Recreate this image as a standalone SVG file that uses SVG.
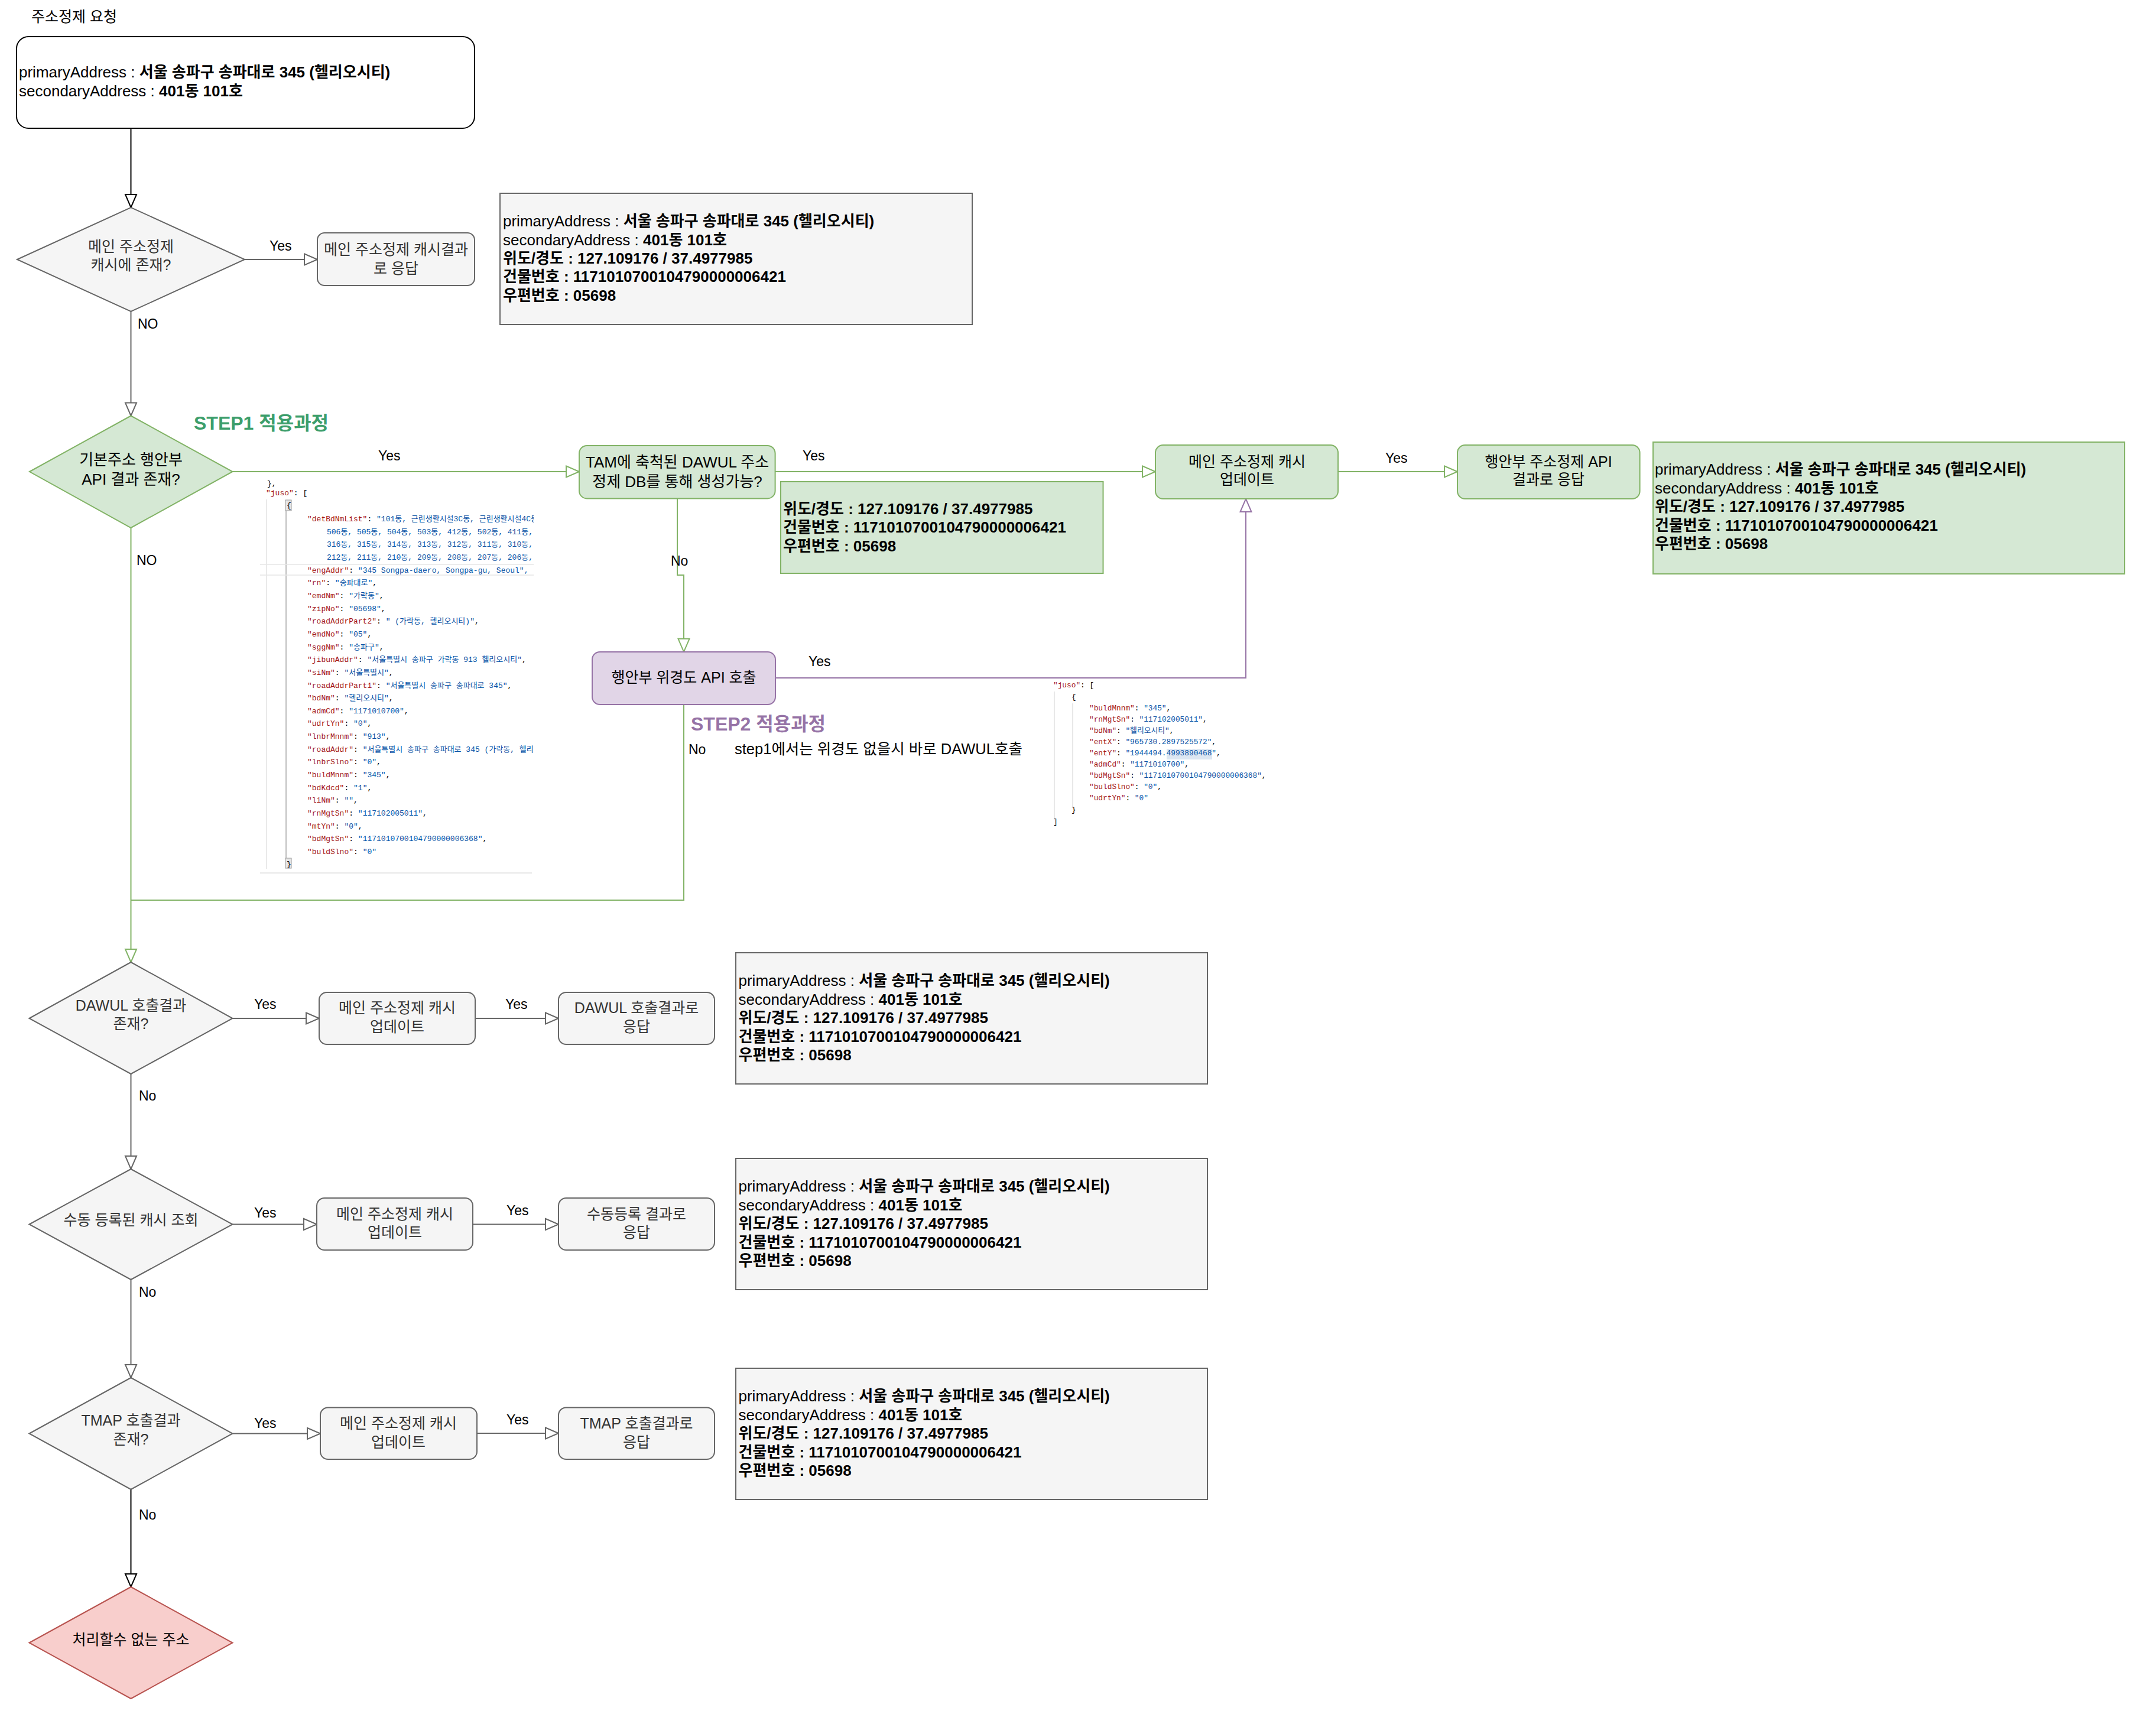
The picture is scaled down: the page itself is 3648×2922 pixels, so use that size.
<svg xmlns="http://www.w3.org/2000/svg" width="3648" height="2922" viewBox="0 0 3648 2922">
<style>
text{font-family:"Liberation Sans","Noto Sans CJK KR",sans-serif}
.lbl{text-anchor:middle}
.f25{font-size:25px}.f26{font-size:26px}
.g{fill:#333}
.yn{font-size:23px;fill:#000}
.adr{font-size:26px;fill:#000}
.b{font-weight:bold}
.step{font-size:32px;font-weight:bold}
.js text,.js2 text{font-family:"Liberation Mono","Noto Sans CJK KR",monospace;fill:#000}
.js text{font-size:13px}.js2 text{font-size:12.8px}
.jk{fill:#a31515}.jv{fill:#0451a5}
text.jv{fill:#0451a5}
.ngray{fill:#f5f5f5;stroke:#666;stroke-width:2}
.ngreen{fill:#d5e8d4;stroke:#82b366;stroke-width:2}
.npurple{fill:#e1d5e7;stroke:#9673a6;stroke-width:2}
.nred{fill:#f8cecc;stroke:#b85450;stroke-width:2}
.e{fill:none;stroke-width:2}
</style>
<defs>
<marker id="ab" markerUnits="userSpaceOnUse" markerWidth="26" markerHeight="24" refX="23" refY="11" orient="auto" overflow="visible"><path d="M1,1.5 L23,11 L1,20.5 Z" fill="#fff" stroke="#000" stroke-width="2"/></marker>
<marker id="ag" markerUnits="userSpaceOnUse" markerWidth="26" markerHeight="24" refX="23" refY="11" orient="auto" overflow="visible"><path d="M1,1.5 L23,11 L1,20.5 Z" fill="#fff" stroke="#666" stroke-width="2"/></marker>
<marker id="agr" markerUnits="userSpaceOnUse" markerWidth="26" markerHeight="24" refX="23" refY="11" orient="auto" overflow="visible"><path d="M1,1.5 L23,11 L1,20.5 Z" fill="#fff" stroke="#82b366" stroke-width="2"/></marker>
<marker id="ap" markerUnits="userSpaceOnUse" markerWidth="26" markerHeight="24" refX="23" refY="11" orient="auto" overflow="visible"><path d="M1,1.5 L23,11 L1,20.5 Z" fill="#fff" stroke="#9673a6" stroke-width="2"/></marker>
<clipPath id="cj1"><rect x="440" y="813" width="463" height="670"/></clipPath>
</defs>
<rect width="3648" height="2922" fill="#fff"/>

<text x="53" y="37" font-size="25">주소정제 요청</text>

<g id="connectors">
<path class="e" d="M221.5,218 V351" stroke="#000" marker-end="url(#ab)"/>
<path class="e" d="M414,439 H537" stroke="#666" marker-end="url(#ag)"/>
<path class="e" d="M221.5,527 V703.5" stroke="#666" marker-end="url(#ag)"/>
<path class="e" d="M393.5,798 H980" stroke="#82b366" marker-end="url(#agr)"/>
<path class="e" d="M1311.6,798 H1955" stroke="#82b366" marker-end="url(#agr)"/>
<path class="e" d="M2264,798 H2466" stroke="#82b366" marker-end="url(#agr)"/>
<path class="e" d="M1146,843.4 V973 H1157 V1102.8" stroke="#82b366" marker-end="url(#agr)"/>
<path class="e" d="M1312,1147 H2108 V844" stroke="#9673a6" marker-end="url(#ap)"/>
<path class="e" d="M221.5,893 V1628" stroke="#82b366" marker-end="url(#agr)"/>
<path class="e" d="M1157,1192 V1523 H221.5" stroke="#82b366"/>
<path class="e" d="M393.5,1723 H540" stroke="#666" marker-end="url(#ag)"/>
<path class="e" d="M804,1723 H945" stroke="#666" marker-end="url(#ag)"/>
<path class="e" d="M221.5,1817 V1978" stroke="#666" marker-end="url(#ag)"/>
<path class="e" d="M393.5,2071.5 H536" stroke="#666" marker-end="url(#ag)"/>
<path class="e" d="M800,2071.5 H945" stroke="#666" marker-end="url(#ag)"/>
<path class="e" d="M221.5,2165 V2331" stroke="#666" marker-end="url(#ag)"/>
<path class="e" d="M393.5,2425.5 H542" stroke="#666" marker-end="url(#ag)"/>
<path class="e" d="M807,2425 H945" stroke="#666" marker-end="url(#ag)"/>
<path class="e" d="M221.5,2520 V2685" stroke="#000" marker-end="url(#ab)"/>
<text class="yn" x="456" y="424">Yes</text>
<text class="yn" x="233" y="556">NO</text>
<text class="yn" x="640" y="779">Yes</text>
<text class="yn" x="231" y="956">NO</text>
<text class="yn" x="1358" y="779">Yes</text>
<text class="yn" x="1135" y="957">No</text>
<text class="yn" x="2344" y="783">Yes</text>
<text class="yn" x="1368" y="1127">Yes</text>
<text class="yn" x="1165" y="1276" font-size="24">No</text>
<text class="yn" x="430" y="1707">Yes</text>
<text class="yn" x="855" y="1707">Yes</text>
<text class="yn" x="235" y="1862">No</text>
<text class="yn" x="430" y="2060">Yes</text>
<text class="yn" x="857" y="2056">Yes</text>
<text class="yn" x="235" y="2194">No</text>
<text class="yn" x="430" y="2416">Yes</text>
<text class="yn" x="857" y="2410">Yes</text>
<text class="yn" x="235" y="2571">No</text>
</g>

<g id="n-request">
<rect x="28" y="62" width="775" height="155" rx="20" fill="#fff" stroke="#000" stroke-width="2"/>
<text class="adr" x="32" y="131">primaryAddress : <tspan class="b">서울 송파구 송파대로 345 (헬리오시티)</tspan></text>
<text class="adr" x="32" y="163">secondaryAddress : <tspan class="b">401동 101호</tspan></text>
</g>

<g id="n-d1">
<polygon class="ngray" points="29,439 221.5,351 414,439 221.5,527"/>
<text class="lbl f25 g" x="221.5" y="425.5">메인 주소정제</text>
<text class="lbl f25 g" x="221.5" y="457">캐시에 존재?</text>
</g>

<g id="n-cache-resp">
<rect class="ngray" x="537" y="394" width="266" height="89" rx="12"/>
<text class="lbl f25 g" x="670" y="431">메인 주소정제 캐시결과</text>
<text class="lbl f25 g" x="670" y="462.5">로 응답</text>
</g>

<g id="n-info1">
<rect class="ngray" x="846" y="327" width="799" height="222"/>
<text class="adr" x="851" y="383">primaryAddress : <tspan class="b">서울 송파구 송파대로 345 (헬리오시티)</tspan></text>
<text class="adr" x="851" y="414.5">secondaryAddress : <tspan class="b">401동 101호</tspan></text>
<text class="adr b" x="851" y="446">위도/경도 : 127.109176 / 37.4977985</text>
<text class="adr b" x="851" y="477">건물번호 : 1171010700104790000006421</text>
<text class="adr b" x="851" y="508.5">우편번호 : 05698</text>
</g>

<text class="step" x="328" y="727" fill="#3d9e6b">STEP1 적용과정</text>

<g id="n-d2">
<polygon class="ngreen" points="50,798 221.5,703.5 393.5,798 221.5,893"/>
<text class="lbl f26" x="221.5" y="787">기본주소 행안부</text>
<text class="lbl f26" x="221.5" y="820">API 결과 존재?</text>
</g>

<g id="json1" clip-path="url(#cj1)">
<line x1="451" y1="845" x2="451" y2="1470" stroke="#e3e3e3" stroke-width="1.5"/>
<line x1="484" y1="864" x2="484" y2="1452" stroke="#a8a8a8" stroke-width="1.5"/>
<line x1="440" y1="955" x2="903" y2="955" stroke="#e6e6e6" stroke-width="1.5"/>
<line x1="440" y1="973" x2="903" y2="973" stroke="#e6e6e6" stroke-width="1.5"/>
<line x1="440" y1="1477" x2="900" y2="1477" stroke="#e8e8e8" stroke-width="2"/>
<rect x="483" y="846" width="10" height="18" fill="#e6e6e6" stroke="#999" stroke-width="1"/>
<rect x="483" y="1452" width="10" height="17" fill="#e6e6e6" stroke="#999" stroke-width="1"/>
<g class="js">
<text x="452" y="822">},</text>
<text x="450" y="838"><tspan class="jk">"juso"</tspan>: [</text>
<text x="485" y="859">{</text>
<text x="520" y="882"><tspan class="jk">"detBdNmList"</tspan>: <tspan class="jv">"101동, 근린생활시설3C동, 근린생활시설4C동,</tspan></text>
<text x="553" y="903.6" class="jv">506동, 505동, 504동, 503동, 412동, 502동, 411동,</text>
<text x="553" y="925.3" class="jv">316동, 315동, 314동, 313동, 312동, 311동, 310동,</text>
<text x="553" y="947" class="jv">212동, 211동, 210동, 209동, 208동, 207동, 206동,</text>
<text x="520" y="968.6"><tspan class="jk">"engAddr"</tspan>: <tspan class="jv">"345 Songpa-daero, Songpa-gu, Seoul",</tspan></text>
<text x="520" y="990.3"><tspan class="jk">"rn"</tspan>: <tspan class="jv">"송파대로"</tspan>,</text>
<text x="520" y="1011.9"><tspan class="jk">"emdNm"</tspan>: <tspan class="jv">"가락동"</tspan>,</text>
<text x="520" y="1033.6"><tspan class="jk">"zipNo"</tspan>: <tspan class="jv">"05698"</tspan>,</text>
<text x="520" y="1055.2"><tspan class="jk">"roadAddrPart2"</tspan>: <tspan class="jv">" (가락동, 헬리오시티)"</tspan>,</text>
<text x="520" y="1076.9"><tspan class="jk">"emdNo"</tspan>: <tspan class="jv">"05"</tspan>,</text>
<text x="520" y="1098.5"><tspan class="jk">"sggNm"</tspan>: <tspan class="jv">"송파구"</tspan>,</text>
<text x="520" y="1120.2"><tspan class="jk">"jibunAddr"</tspan>: <tspan class="jv">"서울특별시 송파구 가락동 913 헬리오시티"</tspan>,</text>
<text x="520" y="1141.8"><tspan class="jk">"siNm"</tspan>: <tspan class="jv">"서울특별시"</tspan>,</text>
<text x="520" y="1163.5"><tspan class="jk">"roadAddrPart1"</tspan>: <tspan class="jv">"서울특별시 송파구 송파대로 345"</tspan>,</text>
<text x="520" y="1185.1"><tspan class="jk">"bdNm"</tspan>: <tspan class="jv">"헬리오시티"</tspan>,</text>
<text x="520" y="1206.8"><tspan class="jk">"admCd"</tspan>: <tspan class="jv">"1171010700"</tspan>,</text>
<text x="520" y="1228.4"><tspan class="jk">"udrtYn"</tspan>: <tspan class="jv">"0"</tspan>,</text>
<text x="520" y="1250.1"><tspan class="jk">"lnbrMnnm"</tspan>: <tspan class="jv">"913"</tspan>,</text>
<text x="520" y="1271.7"><tspan class="jk">"roadAddr"</tspan>: <tspan class="jv">"서울특별시 송파구 송파대로 345 (가락동, 헬리오시티)"</tspan>,</text>
<text x="520" y="1293.4"><tspan class="jk">"lnbrSlno"</tspan>: <tspan class="jv">"0"</tspan>,</text>
<text x="520" y="1315"><tspan class="jk">"buldMnnm"</tspan>: <tspan class="jv">"345"</tspan>,</text>
<text x="520" y="1336.7"><tspan class="jk">"bdKdcd"</tspan>: <tspan class="jv">"1"</tspan>,</text>
<text x="520" y="1358.3"><tspan class="jk">"liNm"</tspan>: <tspan class="jv">""</tspan>,</text>
<text x="520" y="1380"><tspan class="jk">"rnMgtSn"</tspan>: <tspan class="jv">"117102005011"</tspan>,</text>
<text x="520" y="1401.6"><tspan class="jk">"mtYn"</tspan>: <tspan class="jv">"0"</tspan>,</text>
<text x="520" y="1423.3"><tspan class="jk">"bdMgtSn"</tspan>: <tspan class="jv">"1171010700104790000006368"</tspan>,</text>
<text x="520" y="1444.9"><tspan class="jk">"buldSlno"</tspan>: <tspan class="jv">"0"</tspan></text>
<text x="485" y="1466">}</text>
</g>
</g>

<g id="n-tam">
<rect class="ngreen" x="980" y="754" width="331.6" height="89.4" rx="13"/>
<text class="lbl f26" x="1146" y="791">TAM에 축척된 DAWUL 주소</text>
<text class="lbl f26" x="1146" y="823.6">정제 DB를 통해 생성가능?</text>
</g>

<g id="n-info-geo">
<rect class="ngreen" x="1321" y="815" width="545.5" height="155"/>
<text class="adr b" x="1325" y="869.5">위도/경도 : 127.109176 / 37.4977985</text>
<text class="adr b" x="1325" y="901">건물번호 : 1171010700104790000006421</text>
<text class="adr b" x="1325" y="932.5">우편번호 : 05698</text>
</g>

<g id="n-update1">
<rect class="ngreen" x="1955" y="753" width="309" height="91" rx="13"/>
<text class="lbl f25" x="2110" y="790">메인 주소정제 캐시</text>
<text class="lbl f25" x="2110" y="820">업데이트</text>
</g>

<g id="n-api-resp">
<rect class="ngreen" x="2466" y="753" width="308.6" height="91" rx="13"/>
<text class="lbl f25" x="2620" y="790">행안부 주소정제 API</text>
<text class="lbl f25" x="2620" y="820">결과로 응답</text>
</g>

<g id="n-info-api">
<rect class="ngreen" x="2797" y="748" width="798" height="223"/>
<text class="adr" x="2800" y="803">primaryAddress : <tspan class="b">서울 송파구 송파대로 345 (헬리오시티)</tspan></text>
<text class="adr" x="2800" y="834.5">secondaryAddress : <tspan class="b">401동 101호</tspan></text>
<text class="adr b" x="2800" y="866">위도/경도 : 127.109176 / 37.4977985</text>
<text class="adr b" x="2800" y="897.5">건물번호 : 1171010700104790000006421</text>
<text class="adr b" x="2800" y="929">우편번호 : 05698</text>
</g>

<g id="n-geo-api">
<rect class="npurple" x="1002" y="1103" width="310" height="89" rx="13"/>
<text class="lbl f25" x="1157" y="1155">행안부 위경도 API 호출</text>
</g>

<text class="step" x="1169" y="1236" fill="#9673a6">STEP2 적용과정</text>
<text x="1243" y="1276" font-size="25.5">step1에서는 위경도 없을시 바로 DAWUL호출</text>

<g id="json2" class="js2">
<rect x="1974" y="1267" width="77" height="18" fill="#dce6f2"/>
<line x1="1784" y1="1170" x2="1784" y2="1388" stroke="#e0e0e0" stroke-width="1.5"/>
<line x1="1815" y1="1190" x2="1815" y2="1366" stroke="#e0e0e0" stroke-width="1.5"/>
<text x="1782" y="1163"><tspan class="jk">"juso"</tspan>: [</text>
<text x="1813" y="1183">{</text>
<text x="1843" y="1202"><tspan class="jk">"buldMnnm"</tspan>: <tspan class="jv">"345"</tspan>,</text>
<text x="1843" y="1221"><tspan class="jk">"rnMgtSn"</tspan>: <tspan class="jv">"117102005011"</tspan>,</text>
<text x="1843" y="1240"><tspan class="jk">"bdNm"</tspan>: <tspan class="jv">"헬리오시티"</tspan>,</text>
<text x="1843" y="1259"><tspan class="jk">"entX"</tspan>: <tspan class="jv">"965730.2897525572"</tspan>,</text>
<text x="1843" y="1278"><tspan class="jk">"entY"</tspan>: <tspan class="jv">"1944494.4993890468"</tspan>,</text>
<text x="1843" y="1297"><tspan class="jk">"admCd"</tspan>: <tspan class="jv">"1171010700"</tspan>,</text>
<text x="1843" y="1316"><tspan class="jk">"bdMgtSn"</tspan>: <tspan class="jv">"1171010700104790000006368"</tspan>,</text>
<text x="1843" y="1335"><tspan class="jk">"buldSlno"</tspan>: <tspan class="jv">"0"</tspan>,</text>
<text x="1843" y="1354"><tspan class="jk">"udrtYn"</tspan>: <tspan class="jv">"0"</tspan></text>
<text x="1813" y="1374">}</text>
<text x="1782" y="1394">]</text>
</g>

<g id="n-dawul">
<polygon class="ngray" points="49.5,1723 221.5,1628 393.5,1723 221.5,1817"/>
<text class="lbl f25 g" x="221.5" y="1710">DAWUL 호출결과</text>
<text class="lbl f25 g" x="221.5" y="1741">존재?</text>
</g>
<g id="n-update2">
<rect class="ngray" x="540" y="1679" width="264" height="88" rx="13"/>
<text class="lbl f25 g" x="672" y="1714">메인 주소정제 캐시</text>
<text class="lbl f25 g" x="672" y="1746">업데이트</text>
</g>
<g id="n-dawul-resp">
<rect class="ngray" x="945" y="1679" width="264" height="88" rx="13"/>
<text class="lbl f25 g" x="1077" y="1714">DAWUL 호출결과로</text>
<text class="lbl f25 g" x="1077" y="1746">응답</text>
</g>
<g id="n-info-dawul">
<rect class="ngray" x="1245" y="1612" width="798" height="222"/>
<text class="adr" x="1249.5" y="1668">primaryAddress : <tspan class="b">서울 송파구 송파대로 345 (헬리오시티)</tspan></text>
<text class="adr" x="1249.5" y="1699.5">secondaryAddress : <tspan class="b">401동 101호</tspan></text>
<text class="adr b" x="1249.5" y="1731">위도/경도 : 127.109176 / 37.4977985</text>
<text class="adr b" x="1249.5" y="1762.5">건물번호 : 1171010700104790000006421</text>
<text class="adr b" x="1249.5" y="1794">우편번호 : 05698</text>
</g>

<g id="n-manual">
<polygon class="ngray" points="49.5,2071.5 221.5,1978 393.5,2071.5 221.5,2165"/>
<text class="lbl f25 g" x="221.5" y="2073">수동 등록된 캐시 조회</text>
</g>
<g id="n-update3">
<rect class="ngray" x="536" y="2027" width="264" height="88" rx="13"/>
<text class="lbl f25 g" x="668" y="2062.5">메인 주소정제 캐시</text>
<text class="lbl f25 g" x="668" y="2094">업데이트</text>
</g>
<g id="n-manual-resp">
<rect class="ngray" x="945" y="2027" width="264" height="88" rx="13"/>
<text class="lbl f25 g" x="1077" y="2062.5">수동등록 결과로</text>
<text class="lbl f25 g" x="1077" y="2094">응답</text>
</g>
<g id="n-info-manual">
<rect class="ngray" x="1245" y="1960" width="798" height="222"/>
<text class="adr" x="1249.5" y="2016">primaryAddress : <tspan class="b">서울 송파구 송파대로 345 (헬리오시티)</tspan></text>
<text class="adr" x="1249.5" y="2047.5">secondaryAddress : <tspan class="b">401동 101호</tspan></text>
<text class="adr b" x="1249.5" y="2079">위도/경도 : 127.109176 / 37.4977985</text>
<text class="adr b" x="1249.5" y="2110.5">건물번호 : 1171010700104790000006421</text>
<text class="adr b" x="1249.5" y="2142">우편번호 : 05698</text>
</g>

<g id="n-tmap">
<polygon class="ngray" points="49.5,2425.5 221.5,2331 393.5,2425.5 221.5,2520"/>
<text class="lbl f25 g" x="221.5" y="2412">TMAP 호출결과</text>
<text class="lbl f25 g" x="221.5" y="2443.5">존재?</text>
</g>
<g id="n-update4">
<rect class="ngray" x="542" y="2381.5" width="265" height="87.5" rx="13"/>
<text class="lbl f25 g" x="674" y="2417">메인 주소정제 캐시</text>
<text class="lbl f25 g" x="674" y="2448.5">업데이트</text>
</g>
<g id="n-tmap-resp">
<rect class="ngray" x="945" y="2381.5" width="264" height="87.5" rx="13"/>
<text class="lbl f25 g" x="1077" y="2417">TMAP 호출결과로</text>
<text class="lbl f25 g" x="1077" y="2448.5">응답</text>
</g>
<g id="n-info-tmap">
<rect class="ngray" x="1245" y="2315" width="798" height="222"/>
<text class="adr" x="1249.5" y="2371">primaryAddress : <tspan class="b">서울 송파구 송파대로 345 (헬리오시티)</tspan></text>
<text class="adr" x="1249.5" y="2402.5">secondaryAddress : <tspan class="b">401동 101호</tspan></text>
<text class="adr b" x="1249.5" y="2434">위도/경도 : 127.109176 / 37.4977985</text>
<text class="adr b" x="1249.5" y="2465.5">건물번호 : 1171010700104790000006421</text>
<text class="adr b" x="1249.5" y="2497">우편번호 : 05698</text>
</g>

<g id="n-fail">
<polygon class="nred" points="49.5,2779.5 221.5,2685 393.5,2779.5 221.5,2874"/>
<text class="lbl f25" x="221.5" y="2783">처리할수 없는 주소</text>
</g>
</svg>
